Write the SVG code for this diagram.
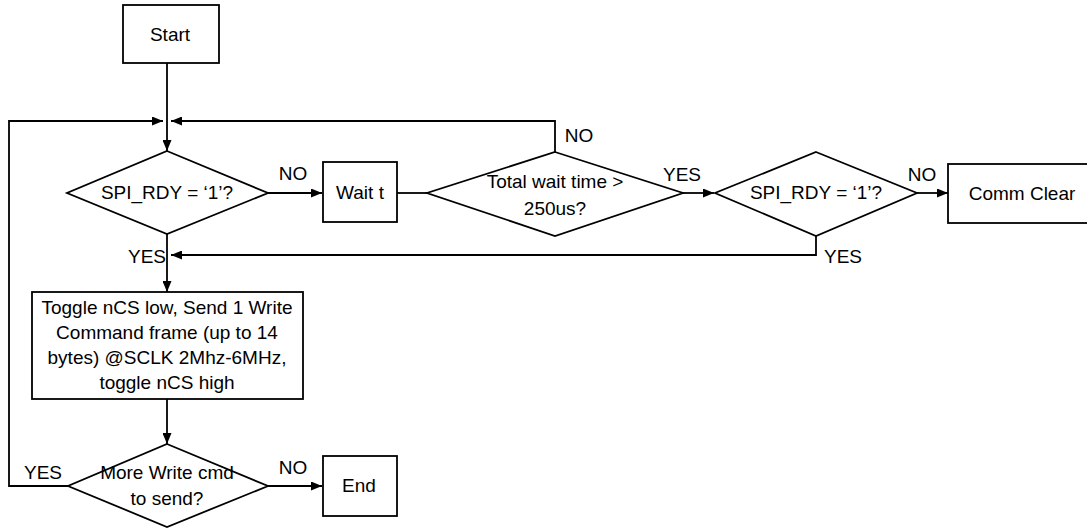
<svg xmlns="http://www.w3.org/2000/svg" width="1087" height="529" viewBox="0 0 1087 529">
<style>
.shape{fill:#fff;stroke:#000;stroke-width:1.8}
.conn{fill:none;stroke:#000;stroke-width:1.8}
text{font-family:"Liberation Sans",Arial,sans-serif;font-size:19px;fill:#000;text-anchor:middle}
</style>
<defs>
<marker id="arr" markerUnits="userSpaceOnUse" markerWidth="11" markerHeight="9" refX="11" refY="4.5" orient="auto">
<path d="M0,0 L11,4.5 L0,9 z" fill="#000"/>
</marker>
</defs>
<rect width="1087" height="529" fill="#fff"/>
<g id="connectors">
<path class="conn" d="M167,63 L167,151" marker-end="url(#arr)"/>
<path class="conn" d="M68,486 L9,486 L9,121 L163,121" marker-end="url(#arr)"/>
<path class="conn" d="M555,152 L555,121 L171,121" marker-end="url(#arr)"/>
<path class="conn" d="M268,193 L322,193" marker-end="url(#arr)"/>
<path class="conn" d="M397,193 L427,193"/>
<path class="conn" d="M683,193 L714,193" marker-end="url(#arr)"/>
<path class="conn" d="M917,193 L948,193" marker-end="url(#arr)"/>
<path class="conn" d="M816,236 L816,255 L171,255" marker-end="url(#arr)"/>
<path class="conn" d="M167,234 L167,292" marker-end="url(#arr)"/>
<path class="conn" d="M167,399 L167,444" marker-end="url(#arr)"/>
<path class="conn" d="M268,486 L322,486" marker-end="url(#arr)"/>
<text x="293" y="180">NO</text>
<text x="147" y="263">YES</text>
<text x="579" y="142">NO</text>
<text x="682" y="181">YES</text>
<text x="922" y="181">NO</text>
<text x="843" y="263">YES</text>
<text x="43" y="479">YES</text>
<text x="293" y="474">NO</text>
</g>
<g id="start">
<rect class="shape" x="123" y="5" width="96" height="58"/>
<text x="170" y="41">Start</text>
</g>
<g id="spi_rdy_check1">
<polygon class="shape" points="167,151 268,193 167,234 67,193"/>
<text x="167" y="199">SPI_RDY = ‘1’?</text>
</g>
<g id="wait_t">
<rect class="shape" x="323" y="162" width="74" height="60"/>
<text x="360" y="199">Wait t</text>
</g>
<g id="total_wait">
<polygon class="shape" points="555,152 683,193 555,236 427,193"/>
<text x="555" y="188">Total wait time &gt;</text>
<text x="555" y="215">250us?</text>
</g>
<g id="spi_rdy_check2">
<polygon class="shape" points="816,152 917,193 816,236 715,193"/>
<text x="816" y="199">SPI_RDY = ‘1’?</text>
</g>
<g id="comm_clear">
<rect class="shape" x="948" y="164" width="145" height="59"/>
<text x="1022" y="200">Comm Clear</text>
</g>
<g id="send_frame">
<rect class="shape" x="32" y="292" width="271" height="107"/>
<text x="167" y="314">Toggle nCS low, Send 1 Write</text>
<text x="167" y="339">Command frame (up to 14</text>
<text x="167" y="364">bytes) @SCLK 2Mhz-6MHz,</text>
<text x="167" y="389">toggle nCS high</text>
</g>
<g id="more_write">
<polygon class="shape" points="167,444 268,486 167,527 68,486"/>
<text x="167" y="479">More Write cmd</text>
<text x="167" y="505">to send?</text>
</g>
<g id="end">
<rect class="shape" x="323" y="456" width="74" height="60"/>
<text x="359" y="492">End</text>
</g>
</svg>
